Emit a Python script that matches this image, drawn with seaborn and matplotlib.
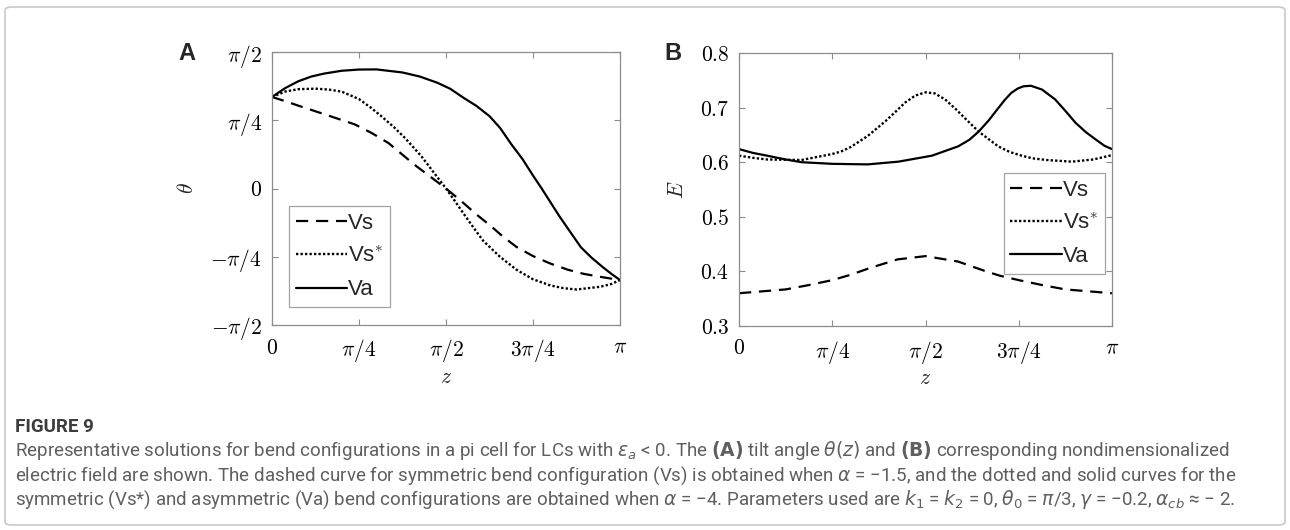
import numpy as np
import pandas as pd
import matplotlib
matplotlib.use('Agg')
import matplotlib.pyplot as plt
import seaborn as sns
from matplotlib.patches import FancyBboxPatch
from matplotlib.lines import Line2D

# z positions are in units of pi/4, theta in units of pi/4
z_vs_a = [0, 0.15, 0.3, 0.61, 0.95, 1.15, 1.34, 1.5, 1.64, 1.87, 2.0, 2.18, 2.35, 2.525, 2.65, 2.81, 3.0, 3.2, 3.4,
          3.58, 3.8, 4.0]
th_vs_a = [1.341, 1.28, 1.215, 1.085, 0.94, 0.81, 0.665, 0.495, 0.346, 0.125, 0.0, -0.19, -0.38, -0.56, -0.70,
           -0.856, -0.99, -1.10, -1.19, -1.25, -1.30, -1.341]

z_vss_a = [0, 0.15, 0.3, 0.5, 0.65, 0.8, 1.0, 1.13, 1.26, 1.4, 1.53, 1.72, 1.91, 2.0, 2.1, 2.22, 2.32, 2.43, 2.62,
           2.81, 3.0, 3.2, 3.35, 3.5, 3.77, 3.9, 4.0]
th_vss_a = [1.341, 1.42, 1.455, 1.463, 1.45, 1.42, 1.31, 1.19, 1.056, 0.90, 0.738, 0.468, 0.15, 0.0, -0.18, -0.40,
            -0.58, -0.77, -1.0, -1.19, -1.33, -1.42, -1.46, -1.48, -1.44, -1.40, -1.341]

z_va_a = [0, 0.15, 0.3, 0.45, 0.6, 0.8, 1.0, 1.2, 1.5, 1.7, 1.9, 2.05, 2.2, 2.35, 2.5, 2.62, 2.75, 2.88, 3.0, 3.1,
          3.2, 3.3, 3.43, 3.55, 3.67, 3.8, 3.9, 4.0]
th_va_a = [1.341, 1.47, 1.57, 1.64, 1.684, 1.725, 1.743, 1.745, 1.70, 1.64, 1.55, 1.46, 1.33, 1.21, 1.06, 0.89,
           0.65, 0.43, 0.19, 0.0, -0.20, -0.40, -0.64, -0.86, -1.01, -1.15, -1.25, -1.341]

# panel B: nondimensionalized field E
z_vs_b = [0, 0.5, 0.75, 1.0, 1.2, 1.4, 1.7, 2.0, 2.35, 2.65, 2.8, 3.0, 3.25, 3.5, 4.0]
e_vs_b = [0.360, 0.367, 0.375, 0.384, 0.394, 0.406, 0.422, 0.428, 0.418, 0.400, 0.392, 0.384, 0.375, 0.367, 0.360]

z_vss_b = [0, 0.15, 0.3, 0.67, 1.0, 1.1, 1.2, 1.38, 1.57, 1.67, 1.78, 1.89, 2.0, 2.1, 2.21, 2.32, 2.42, 2.57, 2.78,
           2.9, 3.03, 3.15, 3.3, 3.57, 3.8, 4.0]
e_vss_b = [0.612, 0.608, 0.605, 0.604, 0.615, 0.620, 0.628, 0.648, 0.675, 0.691, 0.709, 0.722, 0.728, 0.726, 0.715,
           0.698, 0.681, 0.656, 0.629, 0.619, 0.612, 0.607, 0.604, 0.601, 0.605, 0.613]

z_va_b = [0, 0.15, 0.3, 0.5, 0.67, 1.0, 1.38, 1.71, 2.07, 2.35, 2.47, 2.57, 2.68, 2.78, 2.85, 2.92, 2.99, 3.05,
          3.13, 3.25, 3.39, 3.5, 3.61, 3.72, 3.83, 3.92, 4.0]
e_va_b = [0.624, 0.617, 0.612, 0.605, 0.600, 0.597, 0.596, 0.601, 0.612, 0.629, 0.641, 0.656, 0.677, 0.699, 0.714,
          0.727, 0.735, 0.739, 0.740, 0.733, 0.715, 0.694, 0.672, 0.655, 0.641, 0.630, 0.624]

series_names = ['Vs', 'Vs*', 'Va']
legend_labels = ['Vs', r'Vs$^{*}$', 'Va']
x_tick_labels = [r'$0$', r'$\pi/4$', r'$\pi/2$', r'$3\pi/4$', r'$\pi$']
ya_tick_labels = [r'$-\pi/2$', r'$-\pi/4$', r'$0$', r'$\pi/4$', r'$\pi/2$']
yb_ticks = [0.3, 0.4, 0.5, 0.6, 0.7, 0.8]

caption_title = 'FIGURE 9'
caption_lines = [
    r'Representative solutions for bend configurations in a pi cell for LCs with $\varepsilon_a$ < 0. The '
    r'$\mathbf{(A)}$ tilt angle $\theta(z)$ and $\mathbf{(B)}$ corresponding nondimensionalized',
    r'electric field are shown. The dashed curve for symmetric bend configuration (Vs) is obtained when '
    r'$\alpha$ = −1.5, and the dotted and solid curves for the',
    r'symmetric (Vs*) and asymmetric (Va) bend configurations are obtained when $\alpha$ = −4. Parameters used '
    r'are $k_1$ = $k_2$ = 0, $\theta_0$ = $\pi$/3, $\gamma$ = −0.2, $\alpha_{cb}$ ≈ − 2.',
]

sns.set_style('white')
plt.rcParams['font.family'] = ['Liberation Sans', 'DejaVu Sans']
plt.rcParams['mathtext.fontset'] = 'cm'

W, H = 1290, 530
fig = plt.figure(figsize=(W / 100, H / 100), dpi=100)

styles = {
    'Vs': dict(linestyle=(0, (5.5, 3.5)), linewidth=1.6),
    'Vs*': dict(linestyle=(0, (1, 0.9)), linewidth=1.7),
    'Va': dict(linestyle='-', linewidth=1.6),
}
spine_col = '#8c8c8c'


def to_df(z, vals, name, scale=1.0):
    return pd.DataFrame({'z': np.array(z) * np.pi / 4, 'v': np.array(vals) * scale, 'series': name})


def style_axes(ax):
    for s in ax.spines.values():
        s.set_visible(True)
        s.set_color(spine_col)
        s.set_linewidth(0.9)
    ax.tick_params(direction='in', length=4, width=0.8, color=spine_col, top=True, right=True,
                   bottom=True, left=True, labelsize=15.5, labelcolor='black', pad=7)
    ax.tick_params(axis='x', pad=9)
    ax.set_xlim(0, np.pi)
    ax.set_xticks(np.arange(5) * np.pi / 4)
    ax.set_xticklabels(x_tick_labels)
    ax.set_xlabel(r'$z$', fontsize=15.5, labelpad=2)


def add_legend(ax, loc, anchor):
    handles = [Line2D([], [], color='black', **styles[n]) for n in series_names]
    leg = ax.legend(handles, legend_labels, loc=loc, bbox_to_anchor=anchor, fontsize=16,
                    handlelength=2.3, handletextpad=0.05, labelspacing=0.55, borderpad=0.3,
                    borderaxespad=0, frameon=True, fancybox=False)
    leg.get_frame().set_edgecolor(spine_col)
    leg.get_frame().set_linewidth(0.9)


# panel A
axA = fig.add_axes([272 / W, 1 - 325 / H, 348 / W, 273 / H])
data_a = [(z_vs_a, th_vs_a, 'Vs'), (z_vss_a, th_vss_a, 'Vs*'), (z_va_a, th_va_a, 'Va')]
for z, th, name in data_a:
    sns.lineplot(data=to_df(z, th, name, np.pi / 4), x='z', y='v', ax=axA, color='black', **styles[name])
style_axes(axA)
axA.set_ylim(-np.pi / 2, np.pi / 2)
axA.set_yticks(np.arange(-2, 3) * np.pi / 4)
axA.set_yticklabels(ya_tick_labels)
axA.set_ylabel(r'$\theta$', fontsize=15.5, labelpad=9)
add_legend(axA, 'lower left', (17 / 348, 18 / 273))

# panel B
axB = fig.add_axes([739 / W, 1 - 326 / H, 373 / W, 273 / H])
data_b = [(z_vs_b, e_vs_b, 'Vs'), (z_vss_b, e_vss_b, 'Vs*'), (z_va_b, e_va_b, 'Va')]
for z, e, name in data_b:
    sns.lineplot(data=to_df(z, e, name), x='z', y='v', ax=axB, color='black', **styles[name])
style_axes(axB)
axB.set_ylim(0.3, 0.8)
axB.set_yticks(yb_ticks)
axB.set_yticklabels([f'${t:.1f}$' for t in yb_ticks])
axB.set_ylabel(r'$E$', fontsize=15.5, labelpad=9)
add_legend(axB, 'upper right', (366 / 373, 153 / 273))

# panel letters
fig.text(187 / W, 1 - 53 / H, 'A', fontsize=17, fontweight='bold', ha='center', va='center')
fig.text(673 / W, 1 - 53 / H, 'B', fontsize=17, fontweight='bold', ha='center', va='center')

# outer frame
frame = FancyBboxPatch((5 / W, 5 / H), 1280 / W, 518 / H, boxstyle='round,pad=0,rounding_size=0.006',
                       transform=fig.transFigure, facecolor='none', edgecolor='#c8c8c8', linewidth=1.2)
fig.patches.append(frame)

# caption
fig.text(15 / W, 1 - 427 / H, caption_title, fontsize=13.5, fontweight='bold', color='#3c3c3c',
         family=['Roboto', 'DejaVu Sans'], va='center', ha='left')
for i, line in enumerate(caption_lines):
    fig.text(15 / W, 1 - (451 + 24.5 * i) / H, line, fontsize=13.5, color='#5f5f5f',
             family=['Roboto', 'DejaVu Sans'], va='center', ha='left', math_fontfamily='dejavusans')

fig.savefig('out.png', dpi=100)
